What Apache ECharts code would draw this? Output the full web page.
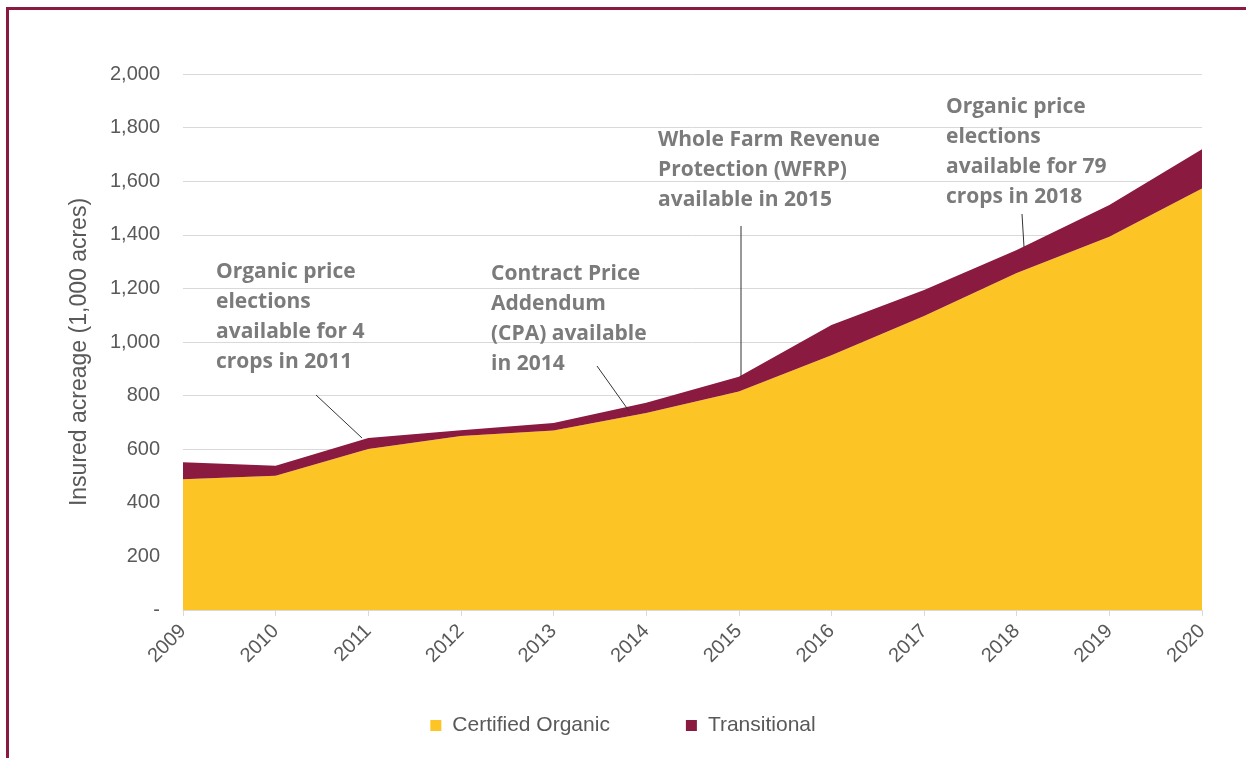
<!DOCTYPE html>
<html>
<head>
<meta charset="utf-8">
<script src="https://cdn.jsdelivr.net/npm/echarts@6/dist/echarts.min.js"></script>
<style>
  html, body { margin: 0; padding: 0; background: #fff; }
  #chart { width: 1246px; height: 758px; }
  .frame {
    position: absolute; left: 6px; top: 7px; width: 1240px; height: 751px;
    border-left: 3px solid #8a1a3f; border-top: 3px solid #8a1a3f;
    pointer-events: none;
  }
</style>
</head>
<body>
<div id="chart"></div>
<div class="frame"></div>
<script>
  var years = ['2009', '2010', '2011', '2012', '2013', '2014', '2015', '2016', '2017', '2018', '2019', '2020'];
  var certifiedOrganic = [488, 501, 601, 649, 670, 735, 815, 951, 1097, 1257, 1393, 1573];
  var transitional = [63, 37, 41, 22, 28, 38, 55, 112, 97, 86, 118, 146];

  var textColor = '#7b7b7b';
  var noteFont = 'bold 21px "Open Sans", sans-serif';
  var labelFont = '"Liberation Sans", Arial, sans-serif';

  function note(x, y, lines) {
    return {
      type: 'text', left: x, top: y, z: 10,
      style: { text: lines.join('\n'), font: noteFont, fill: textColor, lineHeight: 30 }
    };
  }
  function leader(x1, y1, x2, y2) {
    return {
      type: 'line', z: 10,
      shape: { x1: x1, y1: y1, x2: x2, y2: y2 },
      style: { stroke: '#333', lineWidth: 1 }
    };
  }

  var chartDom = document.getElementById('chart');
  var myChart = echarts.init(chartDom);
  var option;

  option = {
    animation: false,
    grid: { left: 183, right: 44, top: 74, bottom: 148 },
    legend: {
      bottom: 17,
      left: 'center',
      itemWidth: 11, itemHeight: 11, itemGap: 76,
      icon: 'rect',
      textStyle: { fontSize: 21, color: '#595959', fontFamily: labelFont, padding: [0, 0, 0, 6] },
      data: ['Certified Organic', 'Transitional']
    },
    xAxis: {
      type: 'category',
      boundaryGap: false,
      data: years,
      axisLine: { lineStyle: { color: '#d9d9d9' } },
      axisTick: { show: true, length: 6, lineStyle: { color: '#d9d9d9' } },
      axisLabel: {
        rotate: 45, fontSize: 20, color: '#595959', margin: 18,
        fontFamily: labelFont
      }
    },
    yAxis: {
      type: 'value',
      min: 0, max: 2000, interval: 200,
      axisLine: { show: false },
      axisTick: { show: false },
      splitLine: { lineStyle: { color: '#d9d9d9' } },
      axisLabel: {
        fontSize: 20, color: '#595959', margin: 23,
        fontFamily: labelFont,
        formatter: function (v) { return v === 0 ? '-' : v.toLocaleString('en-US'); }
      }
    },
    series: [
      {
        name: 'Certified Organic',
        type: 'line',
        stack: 'total',
        symbol: 'none',
        lineStyle: { width: 0 },
        itemStyle: { color: '#fdc426' },
        areaStyle: { color: '#fdc426', opacity: 1 },
        data: certifiedOrganic
      },
      {
        name: 'Transitional',
        type: 'line',
        stack: 'total',
        symbol: 'none',
        lineStyle: { width: 0 },
        itemStyle: { color: '#8a1a3f' },
        areaStyle: { color: '#8a1a3f', opacity: 1 },
        data: transitional
      }
    ],
    graphic: [
      // y axis title, placed like the original (slightly below the plot centre)
      {
        type: 'text', x: 80, y: 352, rotation: Math.PI / 2, z: 10,
        style: {
          text: 'Insured acreage (1,000 acres)', font: '23px ' + labelFont,
          fill: '#595959', align: 'center', verticalAlign: 'middle'
        }
      },
      note(216, 257, ['Organic price', 'elections', 'available for 4', 'crops in 2011']),
      leader(316, 395, 362, 438),
      note(491, 259, ['Contract Price', 'Addendum', '(CPA) available', 'in 2014']),
      leader(597, 366, 629, 411),
      note(658, 125, ['Whole Farm Revenue', 'Protection (WFRP)', 'available in 2015']),
      leader(741, 226, 741, 377),
      note(946, 92, ['Organic price', 'elections', 'available for 79', 'crops in 2018']),
      leader(1022, 214, 1024, 247)
    ]
  };
  option && myChart.setOption(option);
</script>
</body>
</html>
